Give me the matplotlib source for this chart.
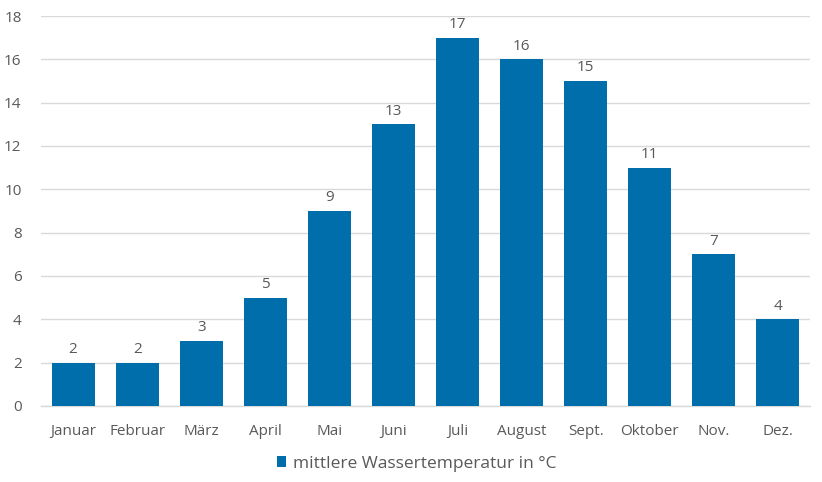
import matplotlib
matplotlib.use("Agg")
import matplotlib.pyplot as plt
from matplotlib.patches import Patch

plt.rcParams['font.family'] = ['Open Sans', 'DejaVu Sans']

months = ["Januar", "Februar", "März", "April", "Mai", "Juni", "Juli",
          "August", "Sept.", "Oktober", "Nov.", "Dez."]
temps = [2, 2, 3, 5, 9, 13, 17, 16, 15, 11, 7, 4]
series_name = "mittlere Wassertemperatur in °C"
yticks = [0, 2, 4, 6, 8, 10, 12, 14, 16, 18]

bar_color = "#006EAA"
text_color = "#595959"
grid_color = "#D9D9D9"

fig = plt.figure(figsize=(8.22, 4.82), dpi=100)
ax = fig.add_axes([0.0499, 0.1577, 0.9355, 0.8091])

x = list(range(len(months)))
bars = ax.bar(x, temps, width=0.67, color=bar_color, zorder=3)
for xi, v in zip(x, temps):
    ax.annotate(str(v), (xi, v), xytext=(0, 4), textcoords="offset points",
                ha="center", va="bottom", fontsize=11, color=text_color)

ax.set_xlim(-0.5, len(months) - 0.5)
ax.set_ylim(0, 18)
ax.set_yticks(yticks)
ax.set_xticks(x)
ax.set_xticklabels(months)
ax.tick_params(axis="both", length=0, labelsize=11, colors=text_color)
ax.tick_params(axis="x", pad=13)
ax.tick_params(axis="y", pad=14)
ax.yaxis.grid(True, color=grid_color, linewidth=1, zorder=0)
for s in ["top", "right", "left"]:
    ax.spines[s].set_visible(False)
ax.spines["bottom"].set_color(grid_color)
ax.spines["bottom"].set_linewidth(1)

handles = [Patch(facecolor=bar_color, label=series_name)]
fig.legend(handles=handles, loc="center", bbox_to_anchor=(0.507, 0.038),
           frameon=False, fontsize=12.5, labelcolor=text_color,
           handlelength=0.55, handleheight=0.55, handletextpad=0.4)

fig.savefig("out.png", dpi=100)
